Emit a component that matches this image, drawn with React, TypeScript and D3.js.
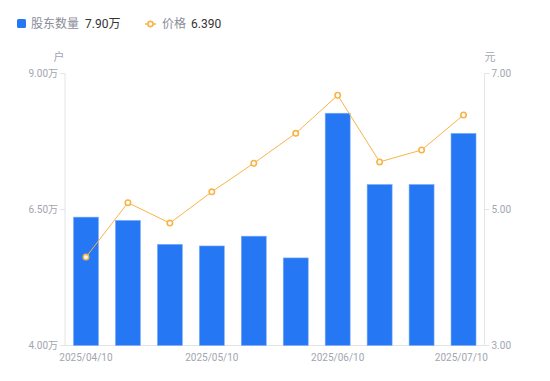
import React from "react";
import * as d3 from "d3";

const dates = ["2025/04/10","2025/04/20","2025/04/30","2025/05/10","2025/05/20","2025/05/30","2025/06/10","2025/06/20","2025/06/30","2025/07/10"];
const holders = [6.36, 6.30, 5.86, 5.83, 6.01, 5.61, 8.27, 6.96, 6.96, 7.90];
const prices = [4.30, 5.10, 4.80, 5.26, 5.68, 6.12, 6.68, 5.70, 5.875, 6.39];
const leftTicks = [4, 6.5, 9];
const rightTicks = [3, 5, 7];
const xTickDates = ["2025/04/10","2025/05/10","2025/06/10","2025/07/10"];

const W = 550, H = 381;
const L = 65, R = 484.5, T = 73.5, B = 345.5;
const FONT = "Roboto, 'Noto Sans CJK SC', sans-serif";
const BLUE = "#2677f3";
const ORANGE = "#f8b447";
const GRAY = "#a2a5b0";

export default function App() {
  const x = d3.scaleBand<string>().domain(dates).range([L, R]).paddingInner(0.4).paddingOuter(0.2);
  const xc = d3.scaleBand<string>().domain(dates).range([L, R]);
  const yl = d3.scaleLinear().domain([4, 9]).range([B, T]);
  const yr = d3.scaleLinear().domain([3, 7]).range([B, T]);
  const line = d3.line<number>().x((_, i) => xc(dates[i])! + xc.bandwidth() / 2).y(d => yr(d));
  const bw = 25;
  return (
    <svg width={W} height={H} style={{ position: "absolute", left: 0, top: 0 }} fontFamily={FONT}>
      <rect x={0} y={0} width={W} height={H} fill="#fff" />
      {/* legend */}
      <rect x={17} y={19} width={9} height={9} rx={1.5} fill={BLUE} />
      <text x={31} y={28} fontSize={12} fill="#8a8d99">股东数量</text>
      <text x={85} y={28} fontSize={12} fill="#333">7.90万</text>
      <line x1={145} x2={156} y1={24} y2={24} stroke={ORANGE} strokeWidth={1.5} />
      <circle cx={150.5} cy={24} r={2.6} fill="#fff" stroke={ORANGE} strokeWidth={1.6} />
      <text x={162} y={28} fontSize={12} fill="#8a8d99">价格</text>
      <text x={191} y={28} fontSize={12} fill="#333">6.390</text>
      {/* units */}
      <text x={59} y={61} fontSize={11} fill={GRAY} textAnchor="middle">户</text>
      <text x={490} y={61} fontSize={11} fill={GRAY} textAnchor="middle">元</text>
      {/* axes */}
      <line x1={L} x2={L} y1={T} y2={B} stroke="#e3e4e8" />
      <line x1={R} x2={R} y1={T} y2={B} stroke="#e3e4e8" />
      <line x1={L} x2={R} y1={B} y2={B} stroke="#e3e4e8" />
      {leftTicks.map(t => (
        <g key={"l" + t}>
          <line x1={L - 5} x2={L} y1={yl(t)} y2={yl(t)} stroke="#e3e4e8" />
          <text x={L - 7} y={yl(t) + 3.5} fontSize={10} fill={GRAY} textAnchor="end">{t.toFixed(2) + "万"}</text>
        </g>
      ))}
      {rightTicks.map(t => (
        <g key={"r" + t}>
          <line x1={R} x2={R + 5} y1={yr(t)} y2={yr(t)} stroke="#e3e4e8" />
          <text x={R + 7} y={yr(t) + 3.5} fontSize={10} fill={GRAY} textAnchor="start">{t.toFixed(2)}</text>
        </g>
      ))}
      {/* bars */}
      {holders.map((v, i) => {
        const cx = xc(dates[i])! + xc.bandwidth() / 2;
        return (
          <rect key={i} x={cx - bw / 2} y={yl(v)} width={bw} height={B - yl(v)} fill={BLUE} stroke="#7fb0f8" strokeWidth={0.6} />
        );
      })}
      {/* x labels */}
      {xTickDates.map((d, k) => {
        const cx = xc(d)! + xc.bandwidth() / 2;
        const anchor = k === xTickDates.length - 1 ? "end" : "middle";
        const xx = k === xTickDates.length - 1 ? 488 : cx;
        return <text key={d} x={xx} y={361} fontSize={10} fill={GRAY} textAnchor={anchor}>{d}</text>;
      })}
      {/* line */}
      <path d={line(prices)!} fill="none" stroke={ORANGE} strokeWidth={1} />
      {prices.map((v, i) => (
        <circle key={i} cx={xc(dates[i])! + xc.bandwidth() / 2} cy={yr(v)} r={2.7} fill="#fff" stroke={ORANGE} strokeWidth={1.6} />
      ))}
    </svg>
  );
}
